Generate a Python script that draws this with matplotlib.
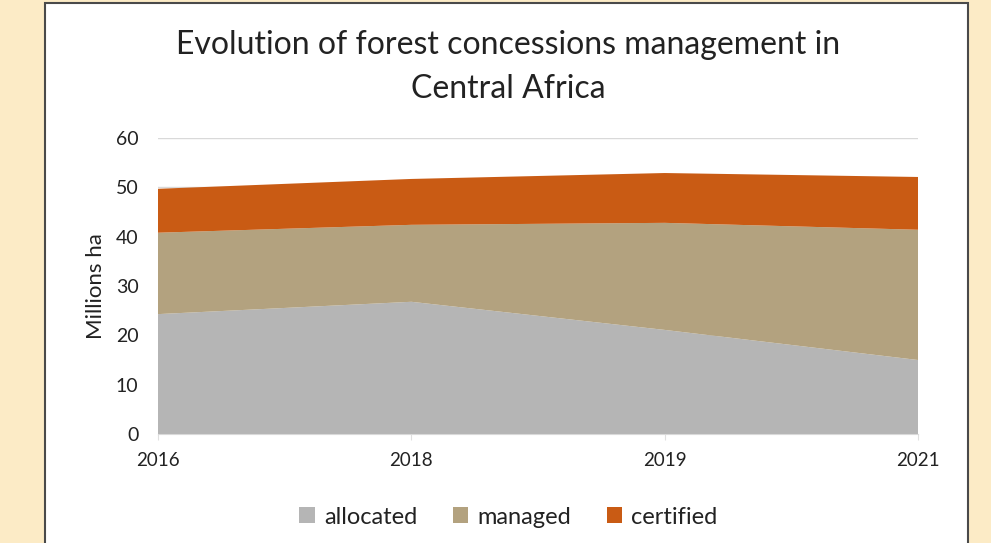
import matplotlib.pyplot as plt
from matplotlib.patches import Rectangle

years = ["2016", "2018", "2019", "2021"]
allocated = [24.3, 26.8, 21.1, 15.0]
managed = [16.5, 15.6, 21.7, 26.4]
certified = [8.9, 9.3, 10.1, 10.7]

colors = ["#B5B5B5", "#B3A27F", "#C95B14"]
labels = ["allocated", "managed", "certified"]

plt.rcParams["font.family"] = ["Lato", "DejaVu Sans"]

fig = plt.figure(figsize=(9.91, 5.43), dpi=100)
fig.patch.set_facecolor("#FCEBC6")

# white chart panel with dark border
fig.patches.append(Rectangle((45 / 991, -0.02), (968 - 45) / 991, 1.02 - 3 / 543,
                             transform=fig.transFigure, facecolor="white",
                             edgecolor="#4A4A4A", linewidth=1.5, zorder=0))

ax = fig.add_axes([158 / 991, 1 - 434 / 543, (918 - 158) / 991, (434 - 138) / 543])
ax.set_zorder(2)
ax.set_facecolor("none")

x = range(len(years))
ax.stackplot(x, allocated, managed, certified, colors=colors, labels=labels, zorder=2)

ax.set_xlim(0, len(years) - 1)
ax.set_ylim(0, 60)
ax.set_yticks(range(0, 61, 10))
ax.set_xticks(list(x))
ax.set_xticklabels(years)
ax.grid(axis="y", color="#D9D9D9", linewidth=1, zorder=1)
ax.set_axisbelow(True)

for side in ["top", "right", "left"]:
    ax.spines[side].set_visible(False)
ax.spines["bottom"].set_color("#D9D9D9")
ax.tick_params(axis="y", length=0, pad=14, labelsize=14, labelcolor="#222222")
ax.tick_params(axis="x", length=4, color="#E0E0E0", pad=9, labelsize=13.5, labelcolor="#222222")

ax.set_ylabel("Millions ha", fontsize=16, color="#222222", labelpad=7)

fig.text(508 / 991, 1 - 67 / 543, "Evolution of forest concessions management in\nCentral Africa",
         ha="center", va="center", fontsize=23, color="#222222", linespacing=1.6,
         zorder=3)

handles, lbls = ax.get_legend_handles_labels()
leg = fig.legend(handles, lbls, loc="center", bbox_to_anchor=(0.513, 1 - 517 / 543), ncol=3,
                 frameon=False, fontsize=17, handlelength=0.65, handleheight=0.65,
                 handletextpad=0.4, columnspacing=1.5, labelcolor="#222222")
leg.set_zorder(3)

fig.savefig("out.png", dpi=100, facecolor=fig.get_facecolor())
